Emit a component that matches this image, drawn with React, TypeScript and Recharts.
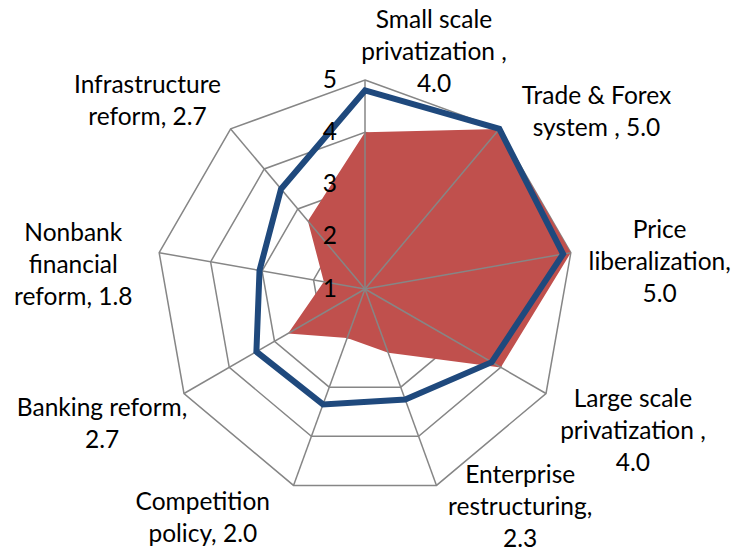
import React from 'react'
import {
  RadarChart,
  Radar,
  PolarGrid,
  PolarAngleAxis,
  PolarRadiusAxis,
} from 'recharts'

// reform areas, clockwise from the top
const categories = [
  'Small scale privatization',
  'Trade & Forex system',
  'Price liberalization',
  'Large scale privatization',
  'Enterprise restructuring',
  'Competition policy',
  'Banking reform',
  'Nonbank financial reform',
  'Infrastructure reform',
]

// filled red series (the values shown in the labels)
const countryScores = [4.0, 5.0, 5.0, 4.0, 2.3, 2.0, 2.7, 1.8, 2.7]

// blue outline series
const comparisonScores = [4.8, 5.0, 4.85, 3.8, 3.25, 3.35, 3.4, 3.05, 3.5]

// category labels as they wrap on the chart
const categoryLabels = [
  ['Small scale', 'privatization ,', '4.0'],
  ['Trade & Forex', 'system , 5.0'],
  ['Price', 'liberalization,', '5.0'],
  ['Large scale', 'privatization ,', '4.0'],
  ['Enterprise', 'restructuring,', '2.3'],
  ['Competition', 'policy, 2.0'],
  ['Banking reform,', '2.7'],
  ['Nonbank', 'financial', 'reform, 1.8'],
  ['Infrastructure', 'reform, 2.7'],
]

const radiusTicks = [1, 2, 3, 4, 5]

// label block shift from the default tick point
const labelShift = [
  [69, -22],
  [92, -12],
  [81, 9],
  [80, 32],
  [81, 13],
  [-88, 24],
  [-75, 25],
  [-78, 12],
  [-78, -23],
]

const FONT = 'Lato, "Open Sans", sans-serif'
const LINE_H = 32

const data = categories.map((c, i) => ({
  category: c,
  country: countryScores[i],
  comparison: comparisonScores[i],
}))

function AngleTick(props: any) {
  const { x, y, index } = props
  const lines = categoryLabels[index] || []
  const [dx, dy] = labelShift[index] || [0, 0]
  const top = y + dy - ((lines.length - 1) * LINE_H) / 2
  return (
    <g>
      {lines.map((line, i) => (
        <text
          key={i}
          x={x + dx}
          y={top + i * LINE_H}
          textAnchor="middle"
          dominantBaseline="central"
          fontFamily={FONT}
          fontSize={24.5}
          fill="#000"
        >
          {line}
        </text>
      ))}
    </g>
  )
}

function RadiusTick(props: any) {
  const { x, y, payload } = props
  return (
    <text
      x={x - 28}
      y={y - 2}
      textAnchor="end"
      dominantBaseline="central"
      fontFamily={FONT}
      fontSize={24.5}
      fill="#000"
    >
      {payload.value}
    </text>
  )
}

export default function App() {
  return (
    <div
      style={{
        position: 'absolute',
        left: 0,
        top: 0,
        width: 736,
        height: 553,
        background: '#fff',
      }}
    >
      <RadarChart
        width={736}
        height={553}
        data={data}
        cx={365}
        cy={289}
        outerRadius={209}
        startAngle={90}
        endAngle={-270}
      >
        {/* rings sit under the red area, spokes over it */}
        <PolarGrid
          gridType="polygon"
          stroke="#868686"
          strokeWidth={1.5}
          radialLines={false}
        />
        <Radar
          dataKey="country"
          fill="#C0504D"
          fillOpacity={1}
          stroke="none"
          isAnimationActive={false}
          zIndex={100}
        />
        <PolarGrid
          gridType="polygon"
          stroke="#868686"
          strokeWidth={1.5}
          polarRadius={[]}
          zIndex={200}
        />
        <PolarAngleAxis
          dataKey="category"
          axisLine={false}
          tickLine={false}
          tick={<AngleTick />}
        />
        <PolarRadiusAxis
          angle={90}
          domain={[1, 5]}
          ticks={radiusTicks as any}
          tickCount={5}
          axisLine={false}
          tickLine={false}
          tick={<RadiusTick />}
        />
        <Radar
          dataKey="comparison"
          fill="none"
          fillOpacity={0}
          stroke="#1F497D"
          strokeWidth={6}
          dot={false}
          isAnimationActive={false}
          zIndex={300}
        />
      </RadarChart>
    </div>
  )
}
